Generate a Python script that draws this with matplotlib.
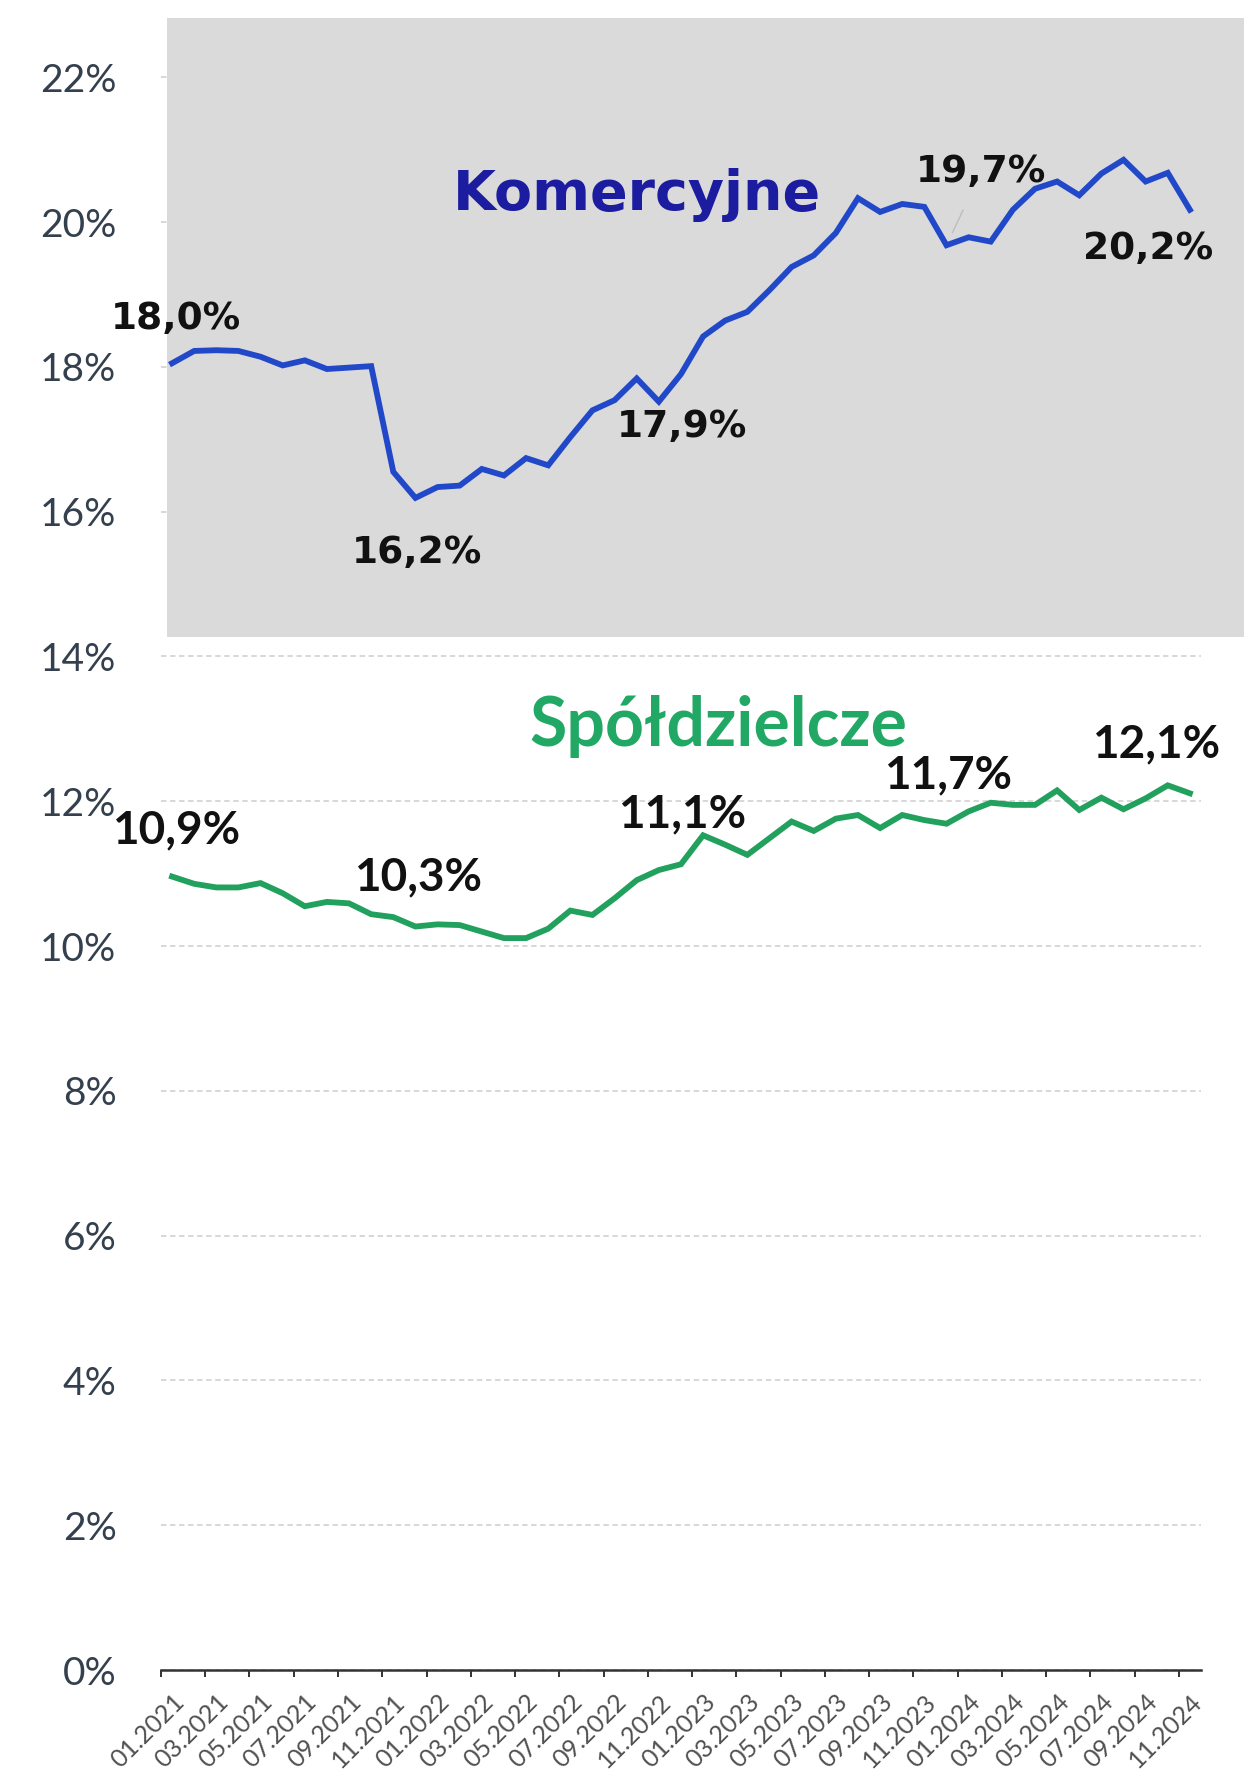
import matplotlib.pyplot as plt
from matplotlib.patches import Rectangle

# monthly series 01.2021 - 11.2024, in %
months = [f"{m:02d}.{y}" for y in range(2021, 2025) for m in range(1, 13)][:47]

komercyjne = [18.05, 18.22, 18.23, 18.22, 18.14, 18.02, 18.09, 17.97, 17.99, 18.01,
              16.55, 16.19, 16.34, 16.36, 16.59, 16.50, 16.74, 16.64, 17.03, 17.40,
              17.54, 17.84, 17.52, 17.90, 18.42, 18.64, 18.76, 19.06, 19.38, 19.54,
              19.85, 20.33, 20.14, 20.25, 20.21, 19.68, 19.79, 19.73, 20.17, 20.46,
              20.56, 20.37, 20.67, 20.86, 20.56, 20.68, 20.17]

spoldzielcze = [10.96, 10.86, 10.81, 10.81, 10.87, 10.73, 10.55, 10.61, 10.59, 10.44,
                10.40, 10.27, 10.30, 10.29, 10.20, 10.11, 10.11, 10.24, 10.49, 10.43,
                10.66, 10.91, 11.05, 11.13, 11.53, 11.40, 11.26, 11.49, 11.72, 11.59,
                11.76, 11.81, 11.63, 11.81, 11.74, 11.69, 11.86, 11.98, 11.95, 11.95,
                12.15, 11.88, 12.05, 11.89, 12.04, 12.22, 12.11]

# callouts: (index, text, offset in points)
kom_labels = [(0, "18,0%", (3, 32)), (11, "16,2%", (1, -40)), (23, "17,9%", (1, -38)),
              (35, "19,7%", (25, 53)), (46, "20,2%", (-30, -28))]
spo_labels = [(0, "10,9%", (3, 33)), (12, "10,3%", (-14, 34)), (23, "11,1%", (1, 36)),
              (35, "11,7%", (1, 35)), (46, "12,1%", (-24, 35))]

blue = "#2148c9"
green = "#22a05e"

fig = plt.figure(figsize=(12.44, 17.78), dpi=100)
ax = fig.add_axes([0.1294, 0.0607, 0.836, 0.9162])

x = list(range(len(months)))
ax.plot(x, komercyjne, color=blue, lw=4.2, zorder=3, solid_joinstyle="miter")
ax.plot(x, spoldzielcze, color=green, lw=4.2, zorder=3, solid_joinstyle="miter")

ax.set_xlim(-0.5, len(months) - 0.5)
ax.set_ylim(0, 22.5)

# grey panel behind the commercial-bank series
ax.add_patch(Rectangle((-0.23, 14.27), 49, 8.55, facecolor="#dadada",
                       edgecolor="none", zorder=0.8, clip_on=False))

ax.set_yticks(range(0, 23, 2))
ax.set_yticklabels([f"{v}%" for v in range(0, 23, 2)])
ax.tick_params(axis="y", length=0, pad=32, labelsize=28, labelcolor="#34404d")
for t in ax.get_yticklabels():
    t.set_fontfamily("Lato")

ax.set_xticks([i - 0.5 for i in range(0, len(months), 2)])
ax.set_xticks(range(0, len(months), 2), minor=True)
ax.set_xticklabels([])
ax.set_xticklabels(months[::2], minor=True, rotation=45, ha="right",
                   rotation_mode="anchor", fontsize=18, color="#505050",
                   fontfamily="Lato")
ax.tick_params(axis="x", which="major", length=5, width=1.4, color="#333333")
ax.tick_params(axis="x", which="minor", length=0, pad=14)

ax.set_axisbelow(True)
ax.yaxis.grid(True, linestyle=(0, (3, 2)), color="#d4d4d4", lw=1.3)
for s in ["top", "right", "left"]:
    ax.spines[s].set_visible(False)
ax.spines["bottom"].set_color("#333333")
ax.spines["bottom"].set_linewidth(1.8)
ax.spines["bottom"].set_zorder(4)

for i, txt, off in kom_labels:
    props = None
    if txt == "19,7%":
        props = dict(arrowstyle="-", color="#bdbdbd", lw=1, shrinkA=14, shrinkB=10)
    ax.annotate(txt, (i, komercyjne[i]), xytext=off, textcoords="offset points",
                ha="center", va="center", fontsize=27, fontweight="bold",
                color="#111111", fontfamily="DejaVu Sans", arrowprops=props, zorder=5)

for i, txt, off in spo_labels:
    ax.annotate(txt, (i, spoldzielcze[i]), xytext=off, textcoords="offset points",
                ha="center", va="center", fontsize=33, fontweight="bold",
                color="#111111", fontfamily="Lato", zorder=5)

ax.text(21.0, 20.37, "Komercyjne", ha="center", va="center", fontsize=40,
        fontweight="bold", color="#1c1ca0", fontfamily="DejaVu Sans", zorder=5)
ax.text(24.7, 13.03, "Spółdzielcze", ha="center", va="center", fontsize=49,
        fontweight="bold", color="#22a865", fontfamily="Lato", zorder=5)

fig.savefig("out.png", dpi=100, facecolor="white")
